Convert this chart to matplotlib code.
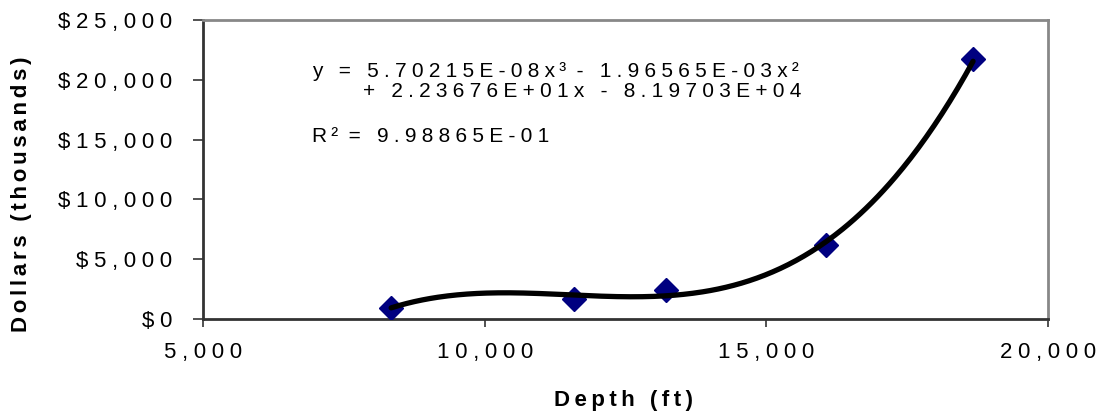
import numpy as np
import matplotlib
matplotlib.use("Agg")
import matplotlib.pyplot as plt
from matplotlib.ticker import FuncFormatter

plt.rcParams['font.family'] = ['Liberation Sans', 'DejaVu Sans']

# Well cost versus depth
depth_ft = [8340, 11590, 13220, 16060, 18670]
cost_thousands = [920, 1670, 2430, 6190, 21710]

# Cubic trendline coefficients (highest power first) and goodness of fit
trend_coefs = [5.70215e-08, -1.96565e-03, 2.23676e+01, -8.19703e+04]
r_squared = 9.98865e-01

x_ticks = [5000, 10000, 15000, 20000]
y_ticks = [0, 5000, 10000, 15000, 20000, 25000]

# Candidate inter-letter gaps, narrowest first
GAPS = ['', '\u200a', '\u2006', '\u2009', '\u2005', '\u2004', ' ']


def track(text, gap):
    """Spread characters apart to give the label a tracked look."""
    return gap.join(text)


def sci(v):
    return f"{v:.5E}"


fig = plt.figure(figsize=(11.01, 4.19), dpi=100)
renderer = fig.canvas.get_renderer()


def pick_gap(text, width_px, **kw):
    """Choose the letter gap whose rendered width comes closest to width_px."""
    best, best_err = GAPS[0], None
    for g in GAPS:
        t = fig.text(0, 0, track(text, g), **kw)
        w = t.get_window_extent(renderer).width
        t.remove()
        err = abs(w - width_px)
        if best_err is None or err < best_err:
            best, best_err = g, err
    return best


ax = fig.add_axes([203 / 1101, 1 - 319 / 419, 845 / 1101, 299 / 419])

ax.plot(depth_ft, cost_thousands, linestyle='none', marker='D',
        markersize=12, color='#000080', zorder=3)

xs = np.linspace(min(depth_ft), max(depth_ft), 300)
ax.plot(xs, np.polyval(trend_coefs, xs), color='black', lw=3.8,
        solid_capstyle='round', zorder=4)

tick_size = 16
tick_gap = pick_gap("$25,000", 114, fontsize=tick_size)

ax.set_xlim(x_ticks[0], x_ticks[-1])
ax.set_ylim(y_ticks[0], y_ticks[-1])
ax.set_xticks(x_ticks)
ax.set_yticks(y_ticks)
ax.xaxis.set_major_formatter(FuncFormatter(lambda v, p: track(f"{v:,.0f}", tick_gap)))
ax.yaxis.set_major_formatter(FuncFormatter(lambda v, p: track(f"${v:,.0f}", tick_gap)))
ax.tick_params(axis='both', direction='out', width=1.2,
               colors='#333333', labelcolor='black', labelsize=tick_size)
ax.tick_params(axis='y', length=7, pad=15)
ax.tick_params(axis='x', length=5.5, pad=11)

for side in ('left', 'bottom'):
    ax.spines[side].set_color('#333333')
    ax.spines[side].set_linewidth(2)
for side in ('top', 'right'):
    ax.spines[side].set_color('#888888')
    ax.spines[side].set_linewidth(2)

# Trendline equation
eq_size = 15
a, b, c, d = trend_coefs
line2_raw = f"+ {sci(c)}x - {sci(abs(d))}"
eq_gap = pick_gap(line2_raw, 425, fontsize=eq_size)
sup3 = "\u2009\u00b3\u2002"
sup2 = "\u2009\u00b2"
line1 = (track(f"y = {sci(a)}x", eq_gap) + sup3
         + track(f"- {sci(abs(b))}x", eq_gap) + sup2)
line2 = track(line2_raw, eq_gap)
line3 = "R\u2009\u00b2\u2005\u2005" + track(f"= {sci(r_squared)}", eq_gap)

fig.text(312 / 1101, 1 - 77 / 419, line1, fontsize=eq_size, ha='left', va='baseline')
fig.text(363 / 1101, 1 - 97 / 419, line2, fontsize=eq_size, ha='left', va='baseline')
fig.text(312 / 1101, 1 - 142 / 419, line3, fontsize=eq_size, ha='left', va='baseline')

# Axis titles
title_kw = dict(fontsize=16, fontweight='bold')
xgap = pick_gap("Depth (ft)", 142, **title_kw)
ygap = pick_gap("Dollars (thousands)", 270, **title_kw)
fig.text(624 / 1101, 1 - 400 / 419, track("Depth (ft)", xgap),
         ha='center', va='center', **title_kw)
fig.text(22 / 1101, 1 - 194 / 419, track("Dollars (thousands)", ygap),
         rotation=90, ha='center', va='center', **title_kw)

fig.savefig("out.png", dpi=100)
